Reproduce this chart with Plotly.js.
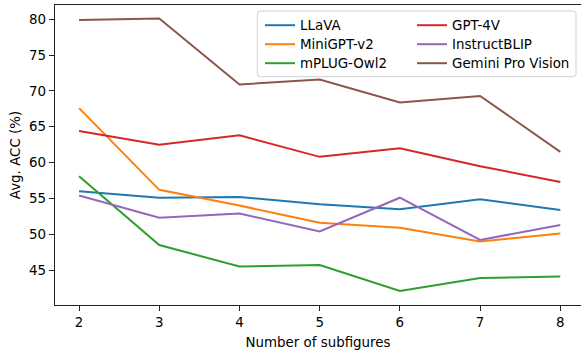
<!DOCTYPE html>
<html>
<head>
<meta charset="utf-8">
<script src="https://cdn.plot.ly/plotly-3.0.1.min.js"></script>
<style>html,body{margin:0;padding:0;background:#fff;}#chart{width:581px;height:352px;}</style>
</head>
<body>
<div id="chart"></div>
<script>
var subfigures = [2, 3, 4, 5, 6, 7, 8];
var llava = [56.0, 55.1, 55.2, 54.2, 53.5, 54.9, 53.4];
var minigpt = [67.6, 56.2, 54.0, 51.6, 50.9, 49.0, 50.1];
var mplug = [58.1, 48.5, 45.5, 45.7, 42.1, 43.9, 44.1];
var gpt4v = [64.4, 62.5, 63.8, 60.8, 62.0, 59.5, 57.3];
var instructblip = [55.4, 52.3, 52.9, 50.4, 55.1, 49.2, 51.3];
var gemini = [79.9, 80.1, 70.9, 71.6, 68.4, 69.3, 61.5];
var xTicks = [2, 3, 4, 5, 6, 7, 8];
var yTicks = [45, 50, 55, 60, 65, 70, 75, 80];

var font = "DejaVu Sans";
var fs = 13.4;
function tr(name, y, color, legend) {
  return {x: subfigures, y: y, name: name, type: 'scatter', mode: 'lines',
    line: {color: color, width: 2}, legend: legend};
}
var data = [
  tr('LLaVA', llava, '#1f77b4', 'legend'),
  tr('MiniGPT-v2', minigpt, '#ff7f0e', 'legend2'),
  tr('mPLUG-Owl2', mplug, '#2ca02c', 'legend3'),
  tr('GPT-4V', gpt4v, '#d62728', 'legend4'),
  tr('InstructBLIP', instructblip, '#9467bd', 'legend5'),
  tr('Gemini Pro Vision', gemini, '#8c564b', 'legend6')
];

var L = 55, R = 0, T = 5, B = 47, W = 581, H = 352;
var pw = W - L - R, ph = H - T - B;
function px(x) { return (x - L) / pw; }
function py(y) { return (H - B - y) / ph; }

var bx0 = px(257.3), bx1 = px(576), by0 = py(76.7), by1 = py(11);
var rx = 3 / pw, ry = 3 / ph;
var path = 'M' + (bx0 + rx) + ',' + by1 + ' L' + (bx1 - rx) + ',' + by1 +
  ' Q' + bx1 + ',' + by1 + ' ' + bx1 + ',' + (by1 - ry) +
  ' L' + bx1 + ',' + (by0 + ry) + ' Q' + bx1 + ',' + by0 + ' ' + (bx1 - rx) + ',' + by0 +
  ' L' + (bx0 + rx) + ',' + by0 + ' Q' + bx0 + ',' + by0 + ' ' + bx0 + ',' + (by0 + ry) +
  ' L' + bx0 + ',' + (by1 - ry) + ' Q' + bx0 + ',' + by1 + ' ' + (bx0 + rx) + ',' + by1 + ' Z';

var legFont = {family: font, size: fs, color: '#000'};
function leg(x, y) {
  return {x: px(x), y: py(y), xanchor: 'left', yanchor: 'middle', bgcolor: 'rgba(0,0,0,0)',
    borderwidth: 0, font: legFont, orientation: 'v'};
}
var col1 = 260, col2 = 412, rows = [25.5, 44.5, 63.5];
var layout = {
  width: W, height: H,
  margin: {l: L, r: R, t: T, b: B, pad: 0},
  paper_bgcolor: '#fff', plot_bgcolor: '#fff',
  font: {family: font, size: fs, color: '#000'},
  showlegend: true,
  xaxis: {
    range: [1.7, 8.258], tickvals: xTicks, ticktext: xTicks.map(String),
    showgrid: false, zeroline: false, showline: true, linecolor: '#222', linewidth: 1.2,
    mirror: true, ticks: 'outside', ticklen: 5, tickwidth: 1, tickcolor: '#222',
    tickfont: {family: font, size: fs, color: '#000'},
    title: {text: 'Number of subfigures', font: {family: font, size: fs, color: '#000'}, standoff: 8}
  },
  yaxis: {
    range: [40.13, 81.99], tickvals: yTicks, ticktext: yTicks.map(String),
    showgrid: false, zeroline: false, showline: true, linecolor: '#222', linewidth: 1.2,
    mirror: true, ticks: 'outside', ticklen: 5, tickwidth: 1, tickcolor: '#222',
    tickfont: {family: font, size: fs, color: '#000'},
    title: {text: 'Avg. ACC (%)', font: {family: font, size: fs, color: '#000'}, standoff: 5}
  },
  legend: leg(col1, rows[0]),
  legend2: leg(col1, rows[1]),
  legend3: leg(col1, rows[2]),
  legend4: leg(col2, rows[0]),
  legend5: leg(col2, rows[1]),
  legend6: leg(col2, rows[2]),
  shapes: [{type: 'path', xref: 'paper', yref: 'paper', path: path,
    line: {color: '#d0d0d0', width: 1}, fillcolor: 'rgba(255,255,255,0.8)', layer: 'above'}]
};
Plotly.newPlot('chart', data, layout, {displayModeBar: false, staticPlot: true});
</script>
</body>
</html>
